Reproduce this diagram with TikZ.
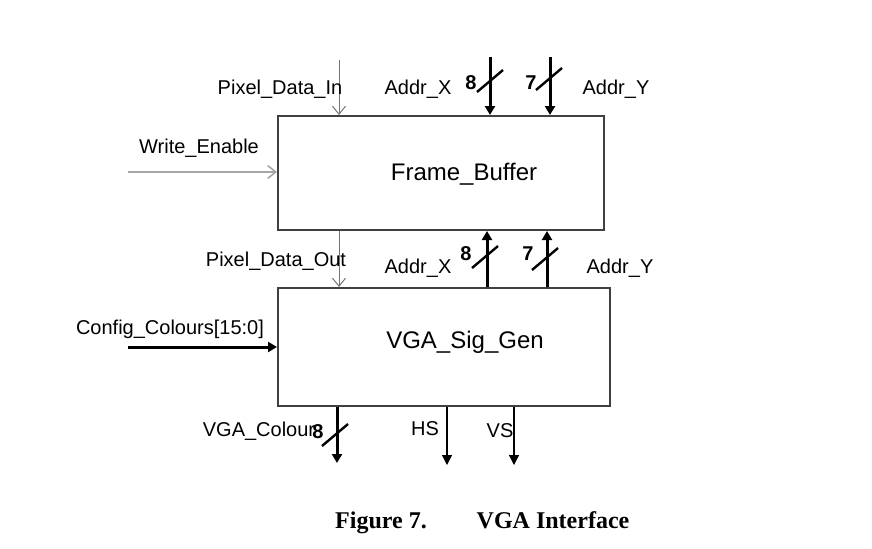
\documentclass[tikz,border=0pt]{standalone}
\usepackage{fontspec}
\setmainfont{Liberation Sans}
\newfontfamily\capfont{Liberation Serif}
\usetikzlibrary{arrows.meta}

\begin{document}
\begin{tikzpicture}[x=0.5pt,y=-0.5pt,
  block/.style={draw=black!75,line width=1pt,inner sep=0pt},
  lbl/.style={font=\fontsize{10pt}{12pt}\selectfont,inner sep=0pt},
  num/.style={font=\fontsize{10pt}{12pt}\selectfont\bfseries,inner sep=0pt},
  wire/.style={draw=black!55,line width=0.5pt,-{Straight Barb[length=4pt,width=6.5pt]}},
  bus/.style={draw=black,line width=1.5pt,-{Triangle[length=4.5pt,width=5pt]}},
  sig/.style={draw=black,line width=0.6pt,-{Triangle[length=5pt,width=5pt]}},
  cut/.style={draw=black,line width=1.2pt},
  capline/.style={font=\capfont\bfseries\fontsize{12pt}{14pt}\selectfont,anchor=base}]
\useasboundingbox (0,0) rectangle (872,548);
% Bloecke
\node[block,minimum width=163pt,minimum height=57pt] (fb) at (441,173) {};
\node[block,minimum width=166pt,minimum height=59pt] (vga) at (444,347) {};
\node[font=\fontsize{12pt}{14pt}\selectfont] (fbtxt) at (464,174) {Frame\_Buffer};
\node[font=\fontsize{12pt}{14pt}\selectfont] (vgatxt) at (465,342) {VGA\_Sig\_Gen};
% Anschluesse
\coordinate (pin) at (339,60);
\coordinate (ax1) at (490,57);
\coordinate (ay1) at (550,57);
\coordinate (ax2) at (487,0);
\coordinate (ay2) at (547,0);
\coordinate (we) at (128,172);
\coordinate (cc) at (128,347);
\coordinate (vcol) at (337,463);
\coordinate (hs) at (447,465);
\coordinate (vs) at (514,465);
% Pfeile
\draw[wire] (pin) -- (pin |- fb.north);
\draw[wire] (fb.south -| pin) -- (vga.north -| pin);
\draw[wire,draw=black!35,line width=0.8pt] (we) -- (we -| fb.west);
\draw[bus] (ax1) -- (ax1 |- fb.north);
\draw[bus] (ay1) -- (ay1 |- fb.north);
\draw[bus] (vga.north -| ax2) -- (fb.south -| ax2);
\draw[bus] (vga.north -| ay2) -- (fb.south -| ay2);
\draw[bus] (cc) -- (cc -| vga.west);
\draw[bus] (vga.south -| vcol) -- (vcol);
\draw[sig] (vga.south -| hs) -- (hs);
\draw[sig] (vga.south -| vs) -- (vs);
% Busbreiten
\foreach \p in {(490,81),(549,79),(485,257),(545,259),(335,435)}
  \draw[cut] \p ++(-13,11) -- ++(26,-22);
% Beschriftungen
\node[lbl] (pdin) at (280,89) {Pixel\_Data\_In};
\node[lbl] (axl1) at (418,89) {Addr\_X};
\node[num] (nx1) at (471,83) {8};
\node[num] (ny1) at (531,83) {7};
\node[lbl] (ayl1) at (616,89) {Addr\_Y};
\node[lbl] (wel) at (199,148) {Write\_Enable};
\node[lbl] (pdout) at (276,261) {Pixel\_Data\_Out};
\node[lbl] (axl2) at (418,268) {Addr\_X};
\node[num] (nx2) at (466,254) {8};
\node[num] (ny2) at (528,254) {7};
\node[lbl] (ayl2) at (620,268) {Addr\_Y};
\node[lbl] (ccl) at (170,329) {Config\_Colours[15:0]};
\node[lbl] (vcl) at (259,431) {VGA\_Colour};
\node[num] (nc) at (318,432) {8};
\node[lbl] (hsl) at (425,429) {HS};
\node[lbl] (vsl) at (500,431) {VS};
% Bildunterschrift
\node[capline] (fig) at (381,528) {Figure 7.};
\node[capline] (title) at (553,528) {VGA Interface};
\end{tikzpicture}
\end{document}
